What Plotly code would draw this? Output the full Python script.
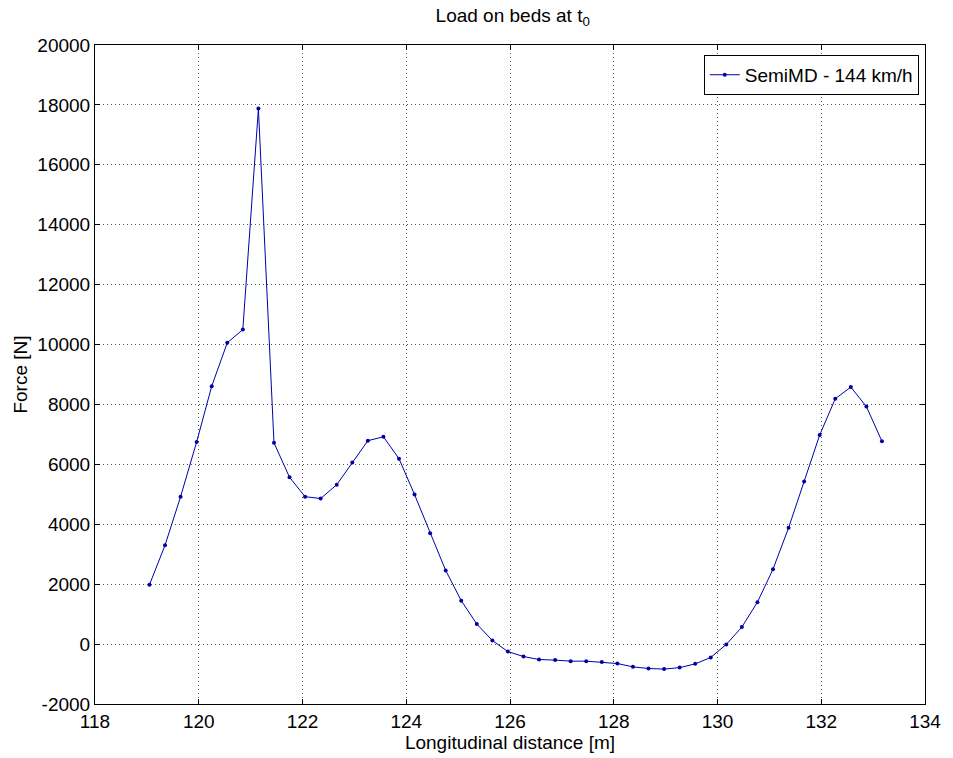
import plotly.graph_objects as go

# Longitudinal position of each bed [m]
distance_m = [
    119.05, 119.35, 119.65, 119.96, 120.25, 120.55, 120.85, 121.15, 121.45, 121.75,
    122.05, 122.35, 122.66, 122.96, 123.26, 123.56, 123.86, 124.16, 124.46, 124.76,
    125.06, 125.36, 125.66, 125.96, 126.26, 126.56, 126.87, 127.17, 127.47, 127.77,
    128.07, 128.37, 128.67, 128.97, 129.27, 129.57, 129.87, 130.17, 130.47, 130.77,
    131.07, 131.37, 131.67, 131.97, 132.27, 132.57, 132.87, 133.17,
]

# Force on each bed at t0 [N]
force_n = [
    1980, 3300, 4920, 6750, 8610, 10060, 10500, 17880, 6720, 5570,
    4920, 4860, 5320, 6060, 6790, 6920, 6190, 4990, 3700, 2460,
    1450, 670, 120, -250, -415, -515, -535, -570, -570, -600,
    -650, -760, -815, -835, -785, -660, -445, -10, 570, 1400,
    2500, 3880, 5430, 6980, 8190, 8580, 7930, 6770,
]

series_name = "SemiMD - 144 km/h"

x_ticks = [118, 120, 122, 124, 126, 128, 130, 132, 134]
y_ticks = [-2000, 0, 2000, 4000, 6000, 8000, 10000, 12000, 14000, 16000, 18000, 20000]
y_tick_text = [str(v) for v in y_ticks]

font_family = "Liberation Sans, Arial, sans-serif"
line_color = "#0000A8"

fig = go.Figure()
fig.add_trace(go.Scatter(
    x=distance_m,
    y=force_n,
    mode="lines+markers",
    name=series_name,
    line=dict(color=line_color, width=1),
    marker=dict(color=line_color, size=4, symbol="circle"),
))

axis_common = dict(
    showline=True,
    linecolor="black",
    linewidth=1,
    mirror="ticks",
    ticks="inside",
    ticklen=5,
    tickcolor="black",
    showgrid=True,
    gridcolor="#555555",
    griddash="1px,3px",
    gridwidth=1,
    zeroline=False,
    tickfont=dict(family=font_family, size=19, color="black"),
)

fig.update_xaxes(
    range=[118, 134],
    tickvals=x_ticks,
    title=dict(text="Longitudinal distance [m]", font=dict(family=font_family, size=19, color="black"), standoff=0),
    **axis_common,
)
fig.update_yaxes(
    range=[-2000, 20000],
    tickvals=y_ticks,
    ticktext=y_tick_text,
    title=dict(text="Force [N]", font=dict(family=font_family, size=19, color="black"), standoff=4),
    **axis_common,
)

fig.update_layout(
    width=953,
    height=758,
    margin=dict(l=95, r=22, t=45, b=54),
    paper_bgcolor="white",
    plot_bgcolor="white",
    title=dict(
        text="Load on beds at t<sub>0</sub>",
        x=0.538,
        xanchor="center",
        y=0.988,
        yanchor="top",
        font=dict(family=font_family, size=19, color="black"),
    ),
    showlegend=True,
    legend=dict(
        x=0.9925,
        y=0.985,
        xanchor="right",
        yanchor="top",
        bgcolor="white",
        bordercolor="black",
        borderwidth=1,
        font=dict(family=font_family, size=19, color="black"),
        tracegroupgap=0,
    ),
)

fig.write_html("out.html")
